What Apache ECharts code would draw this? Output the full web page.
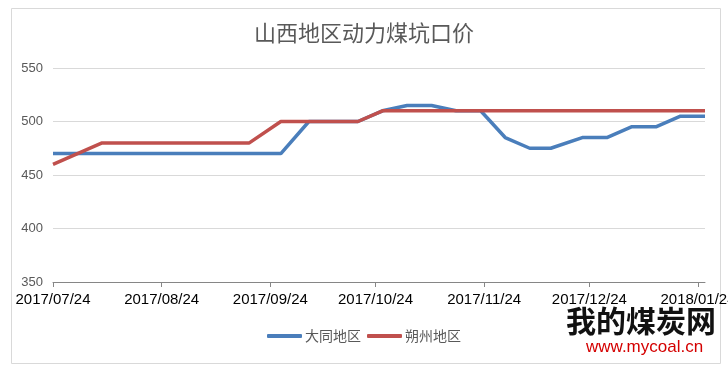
<!DOCTYPE html>
<html>
<head>
<meta charset="utf-8">
<script src="https://cdn.jsdelivr.net/npm/echarts@6/dist/echarts.min.js"></script>
<style>
html,body{margin:0;padding:0;background:#fff;}
#c{width:728px;height:368px;}
</style>
</head>
<body>
<div id="c"></div>
<script>
var titleText = '山西地区动力煤坑口价';
var seriesNames = ['大同地区', '朔州地区'];
var dates = ['2017/07/24','2017/07/31','2017/08/07','2017/08/14','2017/08/21','2017/08/28','2017/09/04','2017/09/11','2017/09/18','2017/09/27','2017/10/05','2017/10/12','2017/10/19','2017/10/26','2017/11/02','2017/11/09','2017/11/16','2017/11/23','2017/11/30','2017/12/07','2017/12/13','2017/12/22','2017/12/29','2018/01/05','2018/01/12','2018/01/19','2018/01/26'];
var datong = [470,470,470,470,470,470,470,470,470,470,500,500,500,510,515,515,510,510,485,475,475,485,485,495,495,505,505];
var shuozhou = [460,470,480,480,480,480,480,480,480,500,500,500,500,510,510,510,510,510,510,510,510,510,510,510,510,510,510];
var xTickLabels = ['2017/07/24','2017/08/24','2017/09/24','2017/10/24','2017/11/24','2017/12/24','2018/01/24'];
var yTicks = [350, 400, 450, 500, 550];

var DAY = 86400000;
function toDay(s){ var p = s.split('/'); return Math.round(Date.UTC(+p[0], +p[1]-1, +p[2]) / DAY); }
var day0 = toDay(dates[0]);
var xs = dates.map(function(s){ return toDay(s) - day0; });
var tickVals = xTickLabels.map(function(s){ return toDay(s) - day0; });
function pairs(vals){ return vals.map(function(v,i){ return [xs[i], v]; }); }

var chart = echarts.init(document.getElementById('c'), null, {renderer:'canvas'});
chart.setOption({
  backgroundColor: '#fff',
  animation: false,
  title: {
    text: titleText, left: 'center', top: 17,
    textStyle: {fontFamily: 'Noto Sans CJK SC', fontSize: 22, fontWeight: 'normal', color: '#595959'}
  },
  legend: {
    bottom: 20, left: 'center',
    itemWidth: 35, itemHeight: 4, itemGap: 6, icon: 'roundRect',
    textStyle: {fontFamily: 'Noto Sans CJK SC', fontSize: 14, color: '#595959', padding: [0,0,0,-2]},
    data: seriesNames
  },
  grid: {left: 53, right: 23, top: 68, bottom: 86, containLabel: false, outerBoundsMode: 'none'},
  xAxis: {
    type: 'value',
    min: xs[0], max: xs[xs.length-1],
    axisLine: {show: true, lineStyle: {color: '#868686', width: 1}},
    axisTick: {show: true, length: 5, inside: false, lineStyle: {color: '#868686'}, customValues: tickVals},
    axisLabel: {
      customValues: tickVals,
      fontFamily: 'Liberation Sans', fontSize: 15, color: '#000', margin: 10,
      showMinLabel: true, showMaxLabel: true,
      formatter: function(v){ var i = tickVals.indexOf(v); return i >= 0 ? xTickLabels[i] : ''; }
    },
    splitLine: {show: false}
  },
  yAxis: {
    type: 'value', min: yTicks[0], max: yTicks[yTicks.length-1], interval: 50,
    axisLine: {show: false}, axisTick: {show: false},
    axisLabel: {fontFamily: 'Liberation Sans', fontSize: 13, color: '#595959', margin: 10},
    splitLine: {lineStyle: {color: '#d9d9d9', width: 1}}
  },
  series: [
    {name: seriesNames[0], type: 'line', data: pairs(datong), symbol: 'none',
     lineStyle: {color: '#4a7ebb', width: 3.5}, itemStyle: {color: '#4a7ebb'}},
    {name: seriesNames[1], type: 'line', data: pairs(shuozhou), symbol: 'none',
     lineStyle: {color: '#c0504d', width: 3.5}, itemStyle: {color: '#c0504d'}}
  ],
  graphic: [
    {type: 'rect', left: 9, top: 6, shape: {width: 709, height: 355}, silent: true, z: -1,
     style: {fill: 'none', stroke: '#d9d9d9', lineWidth: 1}},
    {type: 'text', left: 566, top: 306, z: 10,
     style: {text: '我的煤炭网', font: 'bold 30px "Noto Sans CJK SC"', fill: '#111'}},
    {type: 'text', left: 586, top: 339, z: 10,
     style: {text: 'www.mycoal.cn', font: '17px "Liberation Sans"', fill: '#d40000'}}
  ]
});
</script>
</body>
</html>
